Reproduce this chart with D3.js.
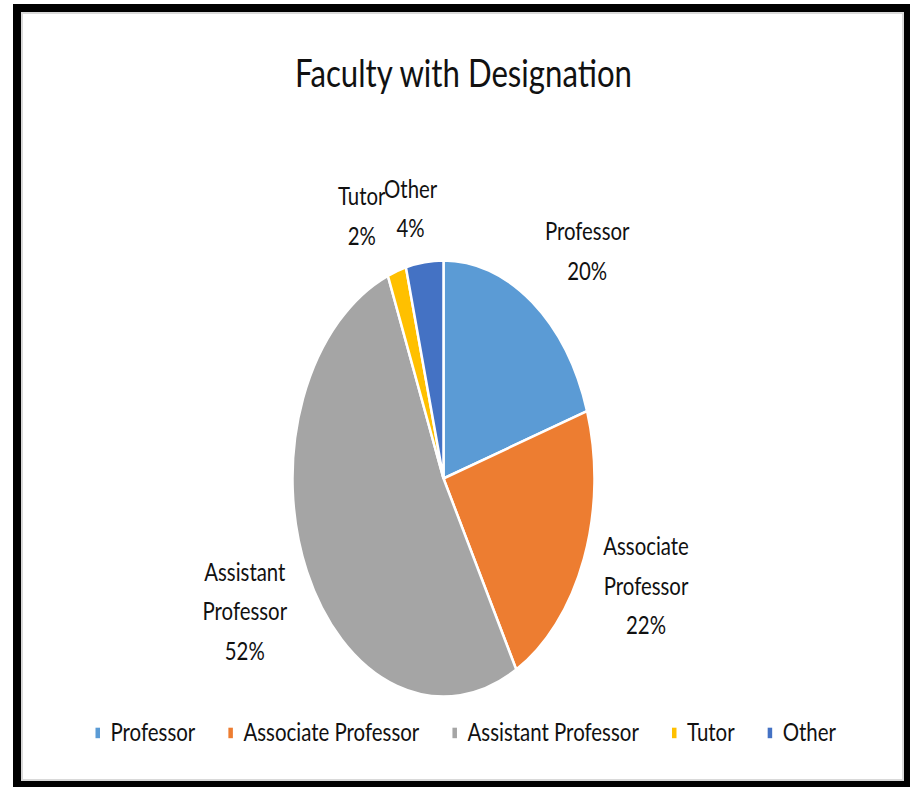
<!DOCTYPE html>
<html><head><meta charset="utf-8">
<script src="https://cdn.jsdelivr.net/npm/d3@7"></script>
<style>body{margin:0;background:#fff}svg{display:block}</style>
</head><body>
<script>
// ---- data ----
const title = "Faculty with Designation";
const categories = ["Professor", "Associate Professor", "Assistant Professor", "Tutor", "Other"];
const values = [20, 22, 52, 2, 4];
const labelLines = [["Professor"], ["Associate", "Professor"], ["Assistant", "Professor"], ["Tutor"], ["Other"]];
const colors = ["#5B9BD5", "#ED7D31", "#A5A5A5", "#FFC000", "#4472C4"];

// ---- layout ----
const W = 910, H = 787;
const font = "Lato, 'Open Sans', sans-serif";
const textColor = "#111";
const cx = 443.5, cy = 478.5, R = 218, sx = 151 / 218;   // pie is horizontally squeezed
const labelR = 248;
const labelFs = 25.5, labelLH = 39.5, capH = 18.3;
const labelNudge = [[12, 6], [0, -2], [-1, 5], [-21, 6], [-8, 9]];
const legendFs = 24.5, legendY = 740.7, legendStart = 95.5, legendEnd = 836;
const legendTextOff = 15, legendGap = 33;

const svg = d3.select("body").append("svg").attr("width", W).attr("height", H);

// frame
svg.append("rect").attr("x", 13).attr("y", 4).attr("width", W - 13).attr("height", H - 4).attr("fill", "#000");
svg.append("rect").attr("x", 22).attr("y", 13).attr("width", 881).attr("height", 767)
  .attr("fill", "#fff").attr("stroke", "#d9d9d9").attr("stroke-width", 2);

// title (used to derive horizontal text squeeze)
const tNode = svg.append("text").attr("text-anchor", "middle")
  .attr("font-family", font).attr("font-size", 39).attr("fill", textColor).text(title);
const textScale = 337 / tNode.node().getComputedTextLength();
tNode.attr("transform", `translate(463.5,86.7) scale(${textScale},1)`);

// pie
const total = d3.sum(values);
const arcs = d3.pie().sort(null).value(d => d)(values);
const arc = d3.arc().innerRadius(0).outerRadius(R);
const g = svg.append("g").attr("transform", `translate(${cx},${cy}) scale(${sx},1)`);
g.selectAll("path").data(arcs).join("path")
  .attr("d", arc)
  .attr("fill", (d, i) => colors[i])
  .attr("stroke", "#fff").attr("stroke-width", 2.5)
  .attr("vector-effect", "non-scaling-stroke");

// data labels
arcs.forEach((d, i) => {
  const lines = labelLines[i].concat([Math.round(values[i] / total * 100) + "%"]);
  const lg = svg.append("g");
  const t = lg.append("text").attr("text-anchor", "middle")
    .attr("font-family", font).attr("font-size", labelFs).attr("fill", textColor)
    .attr("transform", `scale(${textScale},1)`);
  lines.forEach((s, k) => t.append("tspan").attr("x", 0).attr("y", k * labelLH).text(s));
  let w = 0;
  t.selectAll("tspan").each(function () { w = Math.max(w, this.getComputedTextLength()); });
  w *= textScale;
  const top = -capH, bottom = (lines.length - 1) * labelLH + 4;
  const hh = (bottom - top) / 2, yOff = (top + bottom) / 2;
  const a = (d.startAngle + d.endAngle) / 2;
  const ux = Math.sin(a), uy = -Math.cos(a);
  const m = Math.max(Math.abs(ux), Math.abs(uy));
  const hw = w / 2 / sx;
  const c = [labelR * ux + ux / m * hw, labelR * uy + uy / m * hh];
  const px = cx + c[0] * sx + labelNudge[i][0];
  const py = cy + c[1] + labelNudge[i][1];
  lg.attr("transform", `translate(${px},${py - yOff})`);
});

// legend
const lgd = svg.append("g");
const items = categories.map((c, i) => {
  const it = lgd.append("g");
  it.append("rect").attr("x", 0).attr("y", -13).attr("width", 4.5).attr("height", 10.5).attr("fill", colors[i]);
  const tx = it.append("text").attr("font-family", font).attr("font-size", legendFs).attr("fill", textColor).text(c);
  return { it, tx, nat: tx.node().getComputedTextLength() };
});
const textAvail = (legendEnd - legendStart) - items.length * legendTextOff - (items.length - 1) * legendGap;
const legScale = textAvail / d3.sum(items, d => d.nat);
let x0 = legendStart;
items.forEach(d => {
  d.tx.attr("transform", `translate(${legendTextOff},0) scale(${legScale},1)`);
  d.it.attr("transform", `translate(${x0},${legendY})`);
  x0 += legendTextOff + d.nat * legScale + legendGap;
});
</script>
</body></html>
